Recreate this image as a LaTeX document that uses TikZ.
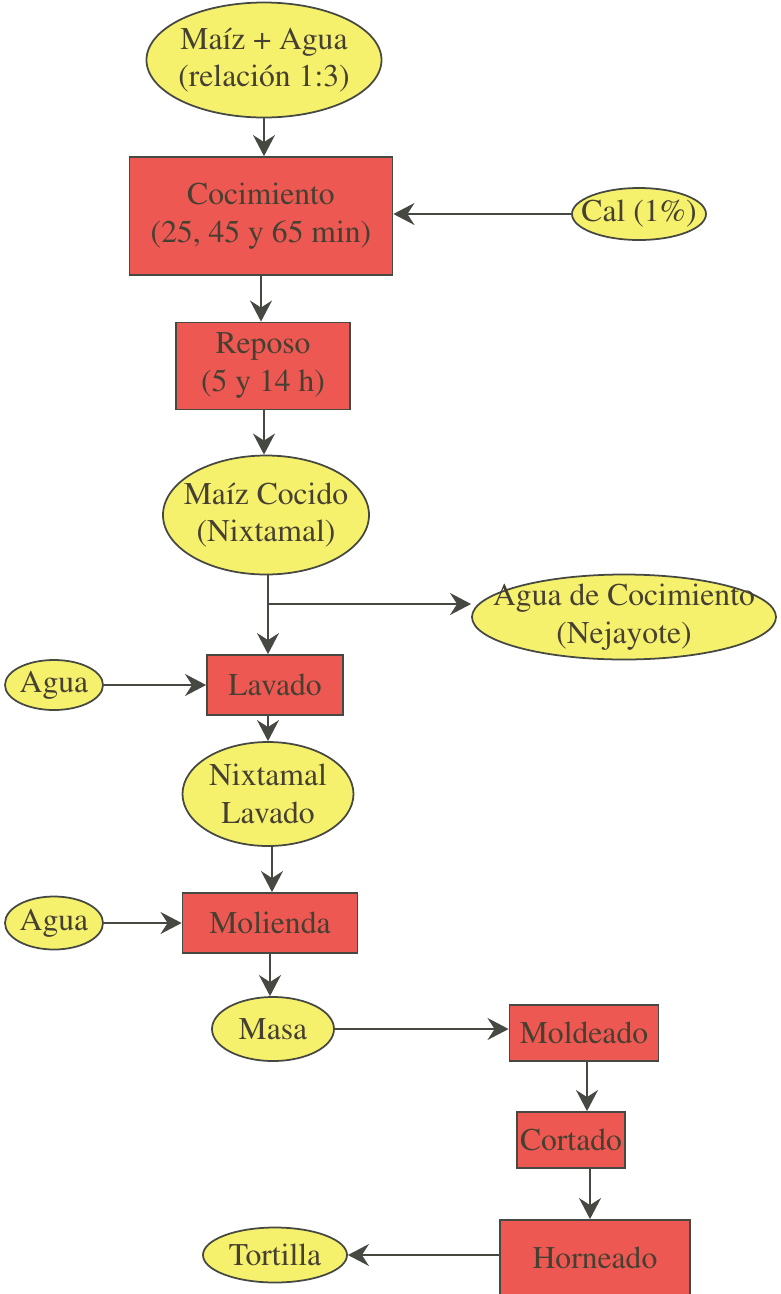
\documentclass[tikz,border=0pt]{standalone}
\usepackage[T1]{fontenc}
\usepackage{mathptmx}
\usepackage{tikz}
\usetikzlibrary{arrows.meta,shapes.geometric}

\definecolor{amarillo}{RGB}{246,241,108}
\definecolor{rojo}{RGB}{238,88,82}
\definecolor{linea}{RGB}{70,72,66}
\definecolor{letra}{RGB}{70,64,50}

\tikzset{
  base/.style={draw=linea, line width=1pt, text=letra, align=center, inner sep=0pt,
    font=\rmfamily\fontsize{18}{21.5}\selectfont},
  elip/.style={base, ellipse, fill=amarillo, inner sep=-3cm},
  caja/.style={base, rectangle, fill=rojo},
  flecha/.style={draw=linea, line width=1.1pt, -{Stealth[length=12pt,width=12.5pt,inset=4pt]}}
}

\begin{document}
\begin{tikzpicture}
\useasboundingbox (0,0) rectangle (15.62,-25.88);
% materias primas y etapas
\node [elip, minimum width=4.7cm, minimum height=2.3cm] (maiz) at (5.28,-1.2) {Maíz + Agua\\(relación 1:3)};
\node [caja, minimum width=5.26cm, minimum height=2.36cm] (coc) at (5.22,-4.32) {Cocimiento\\(25, 45 y 65 min)};
\node [elip, minimum width=2.68cm, minimum height=1.04cm] (cal) at (12.78,-4.28) {Cal (1\%)};
\node [caja, minimum width=3.48cm, minimum height=1.74cm] (rep) at (5.26,-7.32) {Reposo\\(5 y 14 h)};
\node [elip, minimum width=4.12cm, minimum height=2.38cm] (cocido) at (5.32,-10.3) {Maíz Cocido\\(Nixtamal)};
\node [elip, minimum width=6.08cm, minimum height=1.7cm] (neja) at (12.48,-12.34) {Agua de Cocimiento\\(Nejayote)};
\node [caja, minimum width=2.72cm, minimum height=1.2cm] (lav) at (5.5,-13.7) {Lavado};
\node [elip, minimum width=1.96cm, minimum height=1.0cm] (agua1) at (1.08,-13.7) {Agua};
\node [elip, minimum width=3.42cm, minimum height=2.08cm] (nixlav) at (5.36,-15.88) {Nixtamal\\Lavado};
\node [caja, minimum width=3.5cm, minimum height=1.2cm] (mol) at (5.4,-18.46) {Molienda};
\node [elip, minimum width=1.96cm, minimum height=1.06cm] (agua2) at (1.08,-18.46) {Agua};
\node [elip, minimum width=2.44cm, minimum height=1.28cm] (masa) at (5.46,-20.58) {Masa};
\node [caja, minimum width=2.98cm, minimum height=1.12cm] (mold) at (11.68,-20.66) {Moldeado};
\node [caja, minimum width=2.16cm, minimum height=1.12cm] (cort) at (11.42,-22.8) {Cortado};
\node [caja, minimum width=3.8cm, minimum height=1.52cm] (horn) at (11.9,-25.16) {Horneado};
\node [elip, minimum width=2.88cm, minimum height=1.1cm] (tort) at (5.5,-25.1) {Tortilla};
% conexiones
\coordinate (rama) at (5.36,-12.08);
\draw [flecha] (5.28,-2.35) -- (coc.north -| 5.28,0);
\draw [flecha] (cal.west) -- (coc.east |- cal.west);
\draw [flecha] (5.22,-5.5) -- (rep.north -| 5.22,0);
\draw [flecha] (5.28,-8.19) -- (cocido.north -| 5.28,0);
\draw [flecha] (cocido.south -| rama) -- (lav.north -| rama);
\draw [flecha] (rama) -- (neja.west |- rama);
\draw [flecha] (agua1.east) -- (lav.west);
\draw [flecha] (5.36,-14.3) -- (nixlav.north -| 5.36,0);
\draw [flecha] (5.44,-16.92) -- (mol.north -| 5.44,0);
\draw [flecha] (agua2.east) -- (mol.west);
\draw [flecha] (5.4,-19.06) -- (masa.north -| 5.4,0);
\draw [flecha] (masa.east) -- (mold.west |- masa.east);
\draw [flecha] (11.74,-21.22) -- (cort.north -| 11.74,0);
\draw [flecha] (11.8,-23.36) -- (horn.north -| 11.8,0);
\draw [flecha] (horn.west |- tort.east) -- (tort.east);
\end{tikzpicture}
\end{document}
